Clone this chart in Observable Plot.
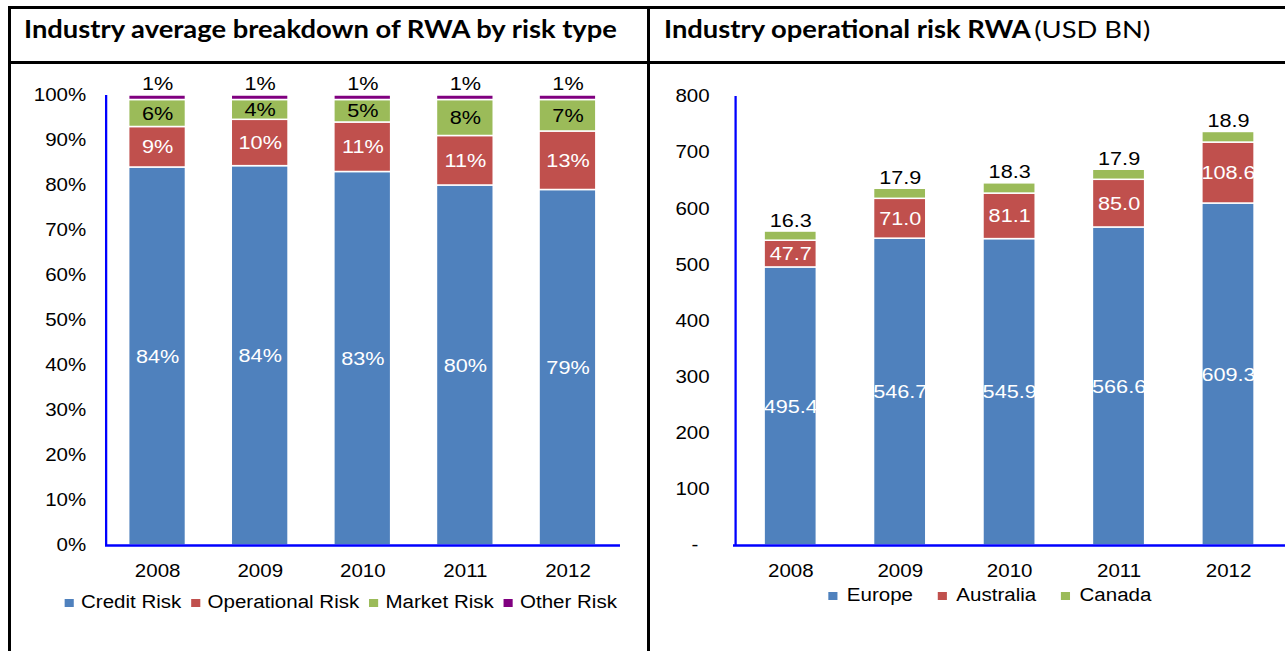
<!DOCTYPE html>
<html>
<head>
<meta charset="utf-8">
<script src="https://cdn.jsdelivr.net/npm/d3@7"></script>
<script src="https://cdn.jsdelivr.net/npm/@observablehq/plot@0.6"></script>
<style>
  html, body { margin: 0; padding: 0; background: #fff; }
  body { width: 1285px; height: 651px; overflow: hidden; position: relative; font-family: "Liberation Sans", Arial, sans-serif; }
  .line { position: absolute; background: #000; }
  .title { position: absolute; top: 13px; line-height: 32px; font-family: Lato, "Open Sans", sans-serif; font-size: 24px; color: #000; white-space: nowrap; transform: scaleX(1.14); transform-origin: 0 0; }
  .title b { font-weight: 700; }
  .title span { font-weight: 400; margin-left: 3px; }
  .wrap { position: absolute; top: 64px; transform-origin: 0 0; }
  .legend { position: absolute; white-space: nowrap; font-size: 18px; line-height: 20px; color: #000; transform: translateX(-50%); }
  .legend .item { display: inline-block; }
  .legend .item:last-child { margin-right: 0 !important; }
  .legend .sw { display: inline-block; width: 8px; height: 8px; vertical-align: 1px; }
  svg { overflow: visible; }
</style>
</head>
<body>
<div class="line" style="left:8px; top:6px; width:1277px; height:3px;"></div>
<div class="line" style="left:8px; top:61px; width:1277px; height:3px;"></div>
<div class="line" style="left:8px; top:6px; width:3px; height:645px;"></div>
<div class="line" style="left:647px; top:6px; width:3px; height:645px;"></div>
<div class="title" style="left:24px;"><b>Industry average breakdown of RWA by risk type</b></div>
<div class="title" style="left:664px;"><b>Industry operational risk RWA</b><span>(USD BN)</span></div>
<div id="leftWrap" class="wrap"></div>
<div id="rightWrap" class="wrap"></div>
<script>
// ---------- data ----------
const years = ["2008", "2009", "2010", "2011", "2012"];

const riskTypes = ["Credit Risk", "Operational Risk", "Market Risk", "Other Risk"];
const riskColors = ["#4F81BD", "#C0504D", "#9BBB59", "#800080"];
const creditRisk = [84, 84.3, 83, 80, 79];
const operationalRisk = [9, 10.3, 11, 11, 13];
const marketRisk = [6, 4.4, 5, 8, 7];
const otherRisk = [1, 1, 1, 1, 1];
const pctTicks = [0, 10, 20, 30, 40, 50, 60, 70, 80, 90, 100];

const regions = ["Europe", "Australia", "Canada"];
const regionColors = ["#4F81BD", "#C0504D", "#9BBB59"];
const europe = [495.4, 546.7, 545.9, 566.6, 609.3];
const australia = [47.7, 71.0, 81.1, 85.0, 108.6];
const canada = [16.3, 17.9, 18.3, 17.9, 18.9];
const usdTicks = [0, 100, 200, 300, 400, 500, 600, 700, 800];

// ---------- layout ----------
const S = 1.14; // horizontal stretch of the chart images
const FONT = "'Liberation Sans', Arial, sans-serif";
const LABEL_SIZE = 19;

function tidy(keys, series) {
  const out = [];
  years.forEach((y, i) => keys.forEach((k, j) => out.push({year: y, type: k, value: series[j][i]})));
  return out;
}
const leftData = tidy(riskTypes, [creditRisk, operationalRisk, marketRisk, otherRisk]);
const rightData = tidy(regions, [europe, australia, canada]);

function legend(keys, colors, centerX, top, itemGap, swGap) {
  const d = document.createElement("div");
  d.className = "legend";
  d.style.left = centerX + "px";
  d.style.top = top + "px";
  keys.forEach((k, i) => {
    const it = document.createElement("span");
    it.className = "item";
    it.style.marginRight = itemGap + "px";
    const sw = document.createElement("span");
    sw.className = "sw";
    sw.style.background = colors[i];
    sw.style.marginRight = swGap + "px";
    it.appendChild(sw);
    it.appendChild(document.createTextNode(k));
    d.appendChild(it);
  });
  return d;
}

// ---------- left chart ----------
{
  const wrap = document.getElementById("leftWrap");
  wrap.style.left = "10px";
  wrap.style.transform = `scaleX(${S})`;
  const W = 638 / S, mL = 95 / S, mR = 28 / S;
  const step = (W - mL - mR) / years.length;
  const chart = Plot.plot({
    width: W, height: 521,
    marginLeft: mL, marginRight: mR, marginTop: 31, marginBottom: 40,
    style: {fontFamily: FONT, fontSize: "18px", color: "#000", background: "transparent", overflow: "visible"},
    x: {domain: years, paddingInner: 0.45, paddingOuter: 0.225, label: null, tickSize: 0, tickPadding: 19},
    y: {domain: [0, 100], ticks: pctTicks, tickFormat: d => d + "%", label: null, tickSize: 0, tickPadding: 17},
    color: {domain: riskTypes, range: riskColors},
    marks: [
      Plot.barY(leftData, Plot.stackY({x: "year", y: "value", fill: "type", order: riskTypes, stroke: "white", strokeWidth: 1.5})),
      Plot.text(leftData, Plot.stackY({x: "year", y: "value", z: "type", order: riskTypes,
        text: d => (d.type === "Credit Risk" || d.type === "Operational Risk") ? Math.round(d.value) + "%" : "",
        fill: "white", fontSize: LABEL_SIZE})),
      Plot.text(leftData, Plot.stackY({x: "year", y: "value", z: "type", order: riskTypes,
        text: d => d.type === "Market Risk" ? Math.round(d.value) + "%" : "",
        fill: "black", fontSize: LABEL_SIZE})),
      Plot.text(leftData, Plot.stackY2({x: "year", y: "value", z: "type", order: riskTypes,
        text: d => d.type === "Other Risk" ? Math.round(d.value) + "%" : "",
        fill: "black", fontSize: LABEL_SIZE, dy: -12})),
      Plot.ruleY([0], {stroke: "#0000FF", strokeWidth: 2.5}),
      Plot.ruleX([years[0]], {y1: 0, y2: 100, stroke: "#0000FF", strokeWidth: 2, dx: -step / 2})
    ]
  });
  wrap.appendChild(chart);
  wrap.appendChild(legend(riskTypes, riskColors, (341 - 10) / S, 528, 9, 6));
}

// ---------- right chart ----------
{
  const wrap = document.getElementById("rightWrap");
  wrap.style.left = "650px";
  wrap.style.transform = `scaleX(${S})`;
  const W = 635 / S, mL = 83 / S, mR = 0;
  const step = (W - mL - mR) / years.length;
  const chart = Plot.plot({
    width: W, height: 521,
    marginLeft: mL, marginRight: mR, marginTop: 32, marginBottom: 40,
    style: {fontFamily: FONT, fontSize: "18px", color: "#000", background: "transparent", overflow: "visible"},
    x: {domain: years, paddingInner: 0.52, paddingOuter: 0.26, label: null, tickSize: 0, tickPadding: 19},
    y: {domain: [0, 800], ticks: usdTicks, tickFormat: d => d === 0 ? "-\u2007" : String(d), label: null, tickSize: 0, tickPadding: 21},
    color: {domain: regions, range: regionColors},
    marks: [
      Plot.barY(rightData, Plot.stackY({x: "year", y: "value", fill: "type", order: regions, stroke: "white", strokeWidth: 1.5})),
      Plot.text(rightData, Plot.stackY({x: "year", y: "value", z: "type", order: regions,
        text: d => d.type !== "Canada" ? d.value.toFixed(1) : "",
        fill: "white", fontSize: LABEL_SIZE})),
      Plot.text(rightData, Plot.stackY2({x: "year", y: "value", z: "type", order: regions,
        text: d => d.type === "Canada" ? d.value.toFixed(1) : "",
        fill: "black", fontSize: LABEL_SIZE, dy: -11})),
      Plot.ruleY([0], {stroke: "#0000FF", strokeWidth: 2.5}),
      Plot.ruleX([years[0]], {y1: 0, y2: 800, stroke: "#0000FF", strokeWidth: 2, dx: -step / 2})
    ]
  });
  wrap.appendChild(chart);
  wrap.appendChild(legend(regions, regionColors, (990 - 650) / S, 521, 22, 8));
}
</script>
</body>
</html>
